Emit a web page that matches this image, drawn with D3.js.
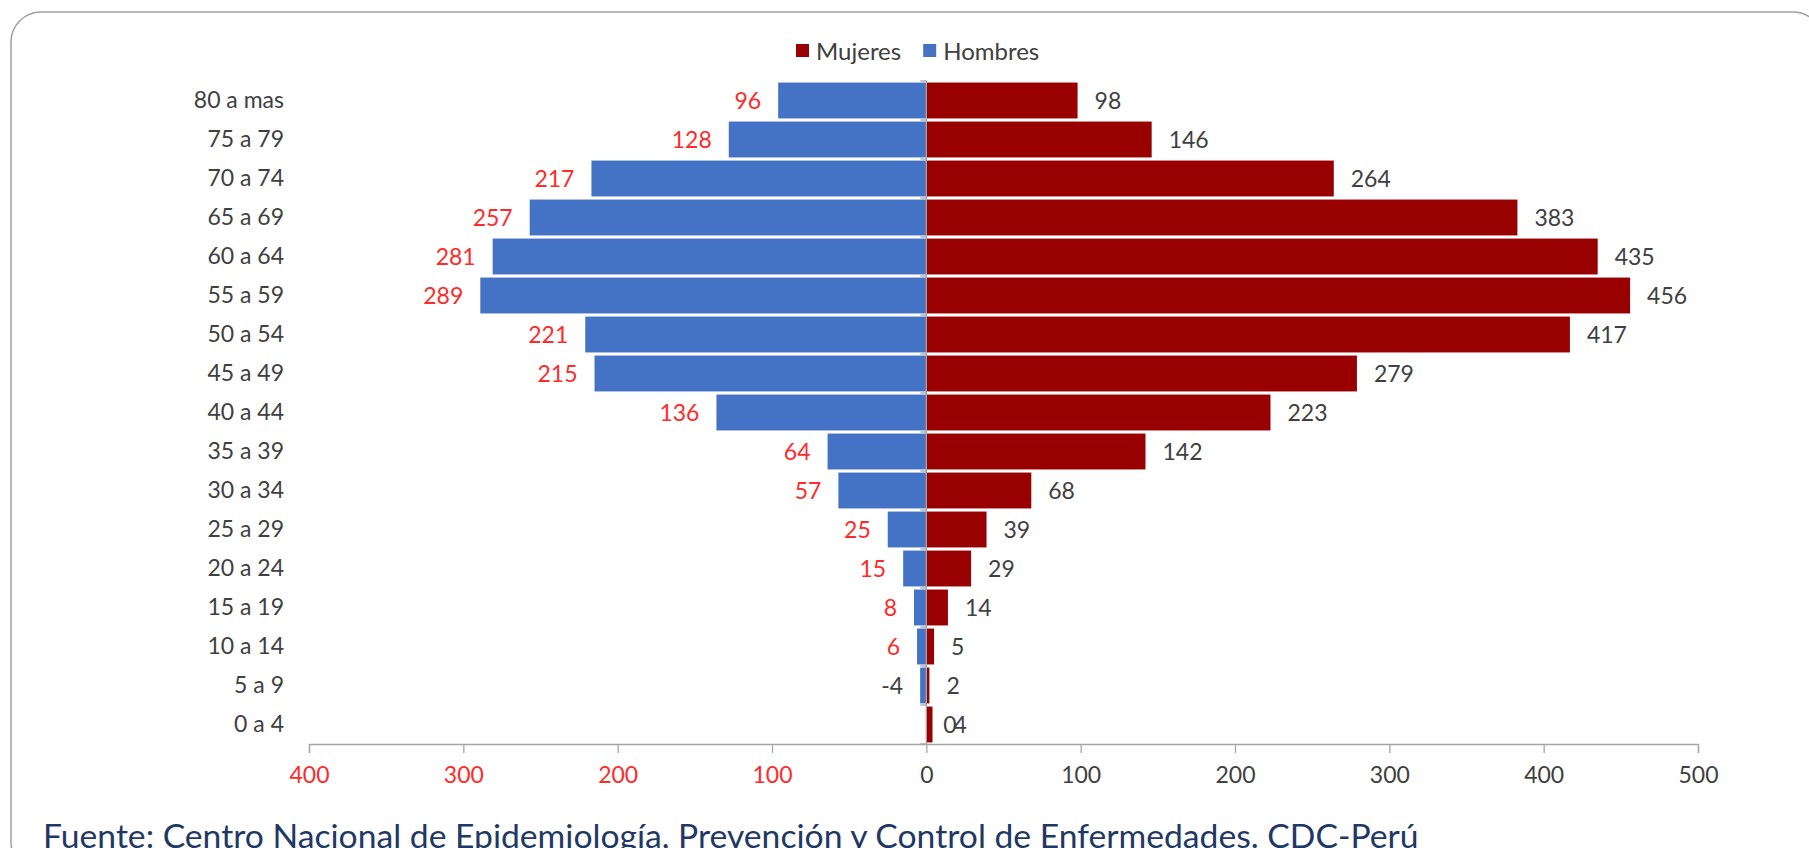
<!DOCTYPE html>
<html lang="es">
<head>
<meta charset="utf-8">
<title>Pirámide por grupo de edad y sexo</title>
<script src="https://cdn.jsdelivr.net/npm/d3@7/dist/d3.min.js"></script>
<style>
  html, body { margin: 0; padding: 0; background: #ffffff; }
  svg { display: block; }
  text { font-family: Lato, "Liberation Sans", sans-serif; }
</style>
</head>
<body>
<svg id="chart" width="1809" height="848"></svg>
<script>
// Age groups, oldest first
const ageGroups = ["80 a mas", "75 a 79", "70 a 74", "65 a 69", "60 a 64", "55 a 59",
  "50 a 54", "45 a 49", "40 a 44", "35 a 39", "30 a 34", "25 a 29", "20 a 24",
  "15 a 19", "10 a 14", "5 a 9", "0 a 4"];

// Women: plotted to the right of zero
const mujeres = [98, 146, 264, 383, 435, 456, 417, 279, 223, 142, 68, 39, 29, 14, 5, 2, 4];

// Men: plotted to the left of zero (negative values)
const hombres = [-96, -128, -217, -257, -281, -289, -221, -215, -136, -64, -57, -25, -15, -8, -6, -4, 0];

// Rows whose men label keeps its sign and default colour
const signedLabelRows = ["5 a 9"];

// Value axis ticks
const xTicks = [-400, -300, -200, -100, 0, 100, 200, 300, 400, 500];

const seriesNames = ["Mujeres", "Hombres"];
const seriesColors = { Mujeres: "#990000", Hombres: "#4472C4" };

const footnote = "Fuente: Centro Nacional de Epidemiología, Prevención y Control de Enfermedades. CDC-Perú";

const textDark = "#404040";
const textRed = "#ff2a2a";
const axisGray = "#a6a6a6";

const svg = d3.select("#chart");

// Rounded panel frame
svg.append("rect")
  .attr("x", 11).attr("y", 12)
  .attr("width", 1812).attr("height", 860)
  .attr("rx", 30).attr("ry", 30)
  .attr("fill", "#ffffff")
  .attr("stroke", "#a0a0a0")
  .attr("stroke-width", 1.5);

const plot = { left: 309, right: 1698, top: 81, bottom: 744 };

const x = d3.scaleLinear().domain([-400, 500]).range([plot.left, plot.right]);
const y = d3.scaleBand()
  .domain(ageGroups)
  .range([plot.top, plot.bottom])
  .paddingInner(0.08)
  .paddingOuter(0.04);

const rows = ageGroups.map((g, i) => ({ group: g, m: mujeres[i], h: hombres[i] }));

// Men bars
svg.append("g").selectAll("rect")
  .data(rows)
  .join("rect")
  .attr("x", d => x(Math.min(0, d.h)))
  .attr("y", d => y(d.group))
  .attr("width", d => Math.abs(x(d.h) - x(0)))
  .attr("height", y.bandwidth())
  .attr("fill", seriesColors.Hombres);

// Women bars
svg.append("g").selectAll("rect")
  .data(rows)
  .join("rect")
  .attr("x", d => x(Math.min(0, d.m)))
  .attr("y", d => y(d.group))
  .attr("width", d => Math.abs(x(d.m) - x(0)))
  .attr("height", y.bandwidth())
  .attr("fill", seriesColors.Mujeres);

// Vertical category axis at zero, with ticks at the band boundaries
const step = y.step();
const zeroAxis = svg.append("g").attr("stroke", axisGray).attr("stroke-width", 1.3);
zeroAxis.append("line")
  .attr("x1", x(0)).attr("x2", x(0))
  .attr("y1", plot.top).attr("y2", plot.bottom);
zeroAxis.selectAll("line.tick")
  .data(d3.range(ageGroups.length + 1))
  .join("line")
  .attr("class", "tick")
  .attr("x1", x(0) - 6).attr("x2", x(0))
  .attr("y1", i => plot.top + i * step)
  .attr("y2", i => plot.top + i * step);

// Category labels at the left
const catAxis = svg.append("g")
  .attr("transform", `translate(${284},0)`)
  .call(d3.axisLeft(y).tickSize(0).tickPadding(0));
catAxis.select(".domain").remove();
catAxis.selectAll("text")
  .attr("font-family", "Lato, 'Liberation Sans', sans-serif")
  .attr("font-size", 23)
  .attr("fill", textDark);

// Value axis
const xAxis = svg.append("g")
  .attr("transform", `translate(0,${plot.bottom})`)
  .call(d3.axisBottom(x).tickValues(xTicks).tickSize(9).tickPadding(14)
    .tickFormat(d => d3.format("d")(Math.abs(d))));
xAxis.select(".domain").attr("stroke", axisGray).attr("stroke-width", 1.3);
xAxis.selectAll(".tick line").attr("stroke", axisGray).attr("stroke-width", 1.3);
xAxis.selectAll(".tick text")
  .attr("font-family", "Lato, 'Liberation Sans', sans-serif")
  .attr("font-size", 23)
  .attr("fill", d => d < 0 ? textRed : textDark);

// Value labels
const labelGap = 17;
const labels = svg.append("g")
  .attr("font-size", 23);

labels.selectAll("text.men")
  .data(rows)
  .join("text")
  .attr("class", "men")
  .attr("x", d => d.h < 0 ? x(d.h) - labelGap : x(d.h) + labelGap)
  .attr("y", d => y(d.group) + y.bandwidth() / 2)
  .attr("dy", "0.36em")
  .attr("text-anchor", d => d.h < 0 ? "end" : "start")
  .attr("fill", d => (d.h < 0 && !signedLabelRows.includes(d.group)) ? textRed : textDark)
  .text(d => signedLabelRows.includes(d.group) ? String(d.h) : String(Math.abs(d.h)));

labels.selectAll("text.women")
  .data(rows)
  .join("text")
  .attr("class", "women")
  .attr("x", d => x(d.m) + labelGap + (d.m < 10 && d.h === 0 ? 4 : 0))
  .attr("y", d => y(d.group) + y.bandwidth() / 2)
  .attr("dy", "0.36em")
  .attr("text-anchor", "start")
  .attr("fill", textDark)
  .text(d => String(d.m));

// Legend
const legend = svg.append("g").attr("transform", "translate(796,51)");
let lx = 0;
seriesNames.forEach(name => {
  const item = legend.append("g").attr("transform", `translate(${lx},0)`);
  item.append("rect")
    .attr("x", 0).attr("y", -7)
    .attr("width", 13).attr("height", 13)
    .attr("fill", seriesColors[name]);
  const t = item.append("text")
    .attr("x", 20).attr("y", 0).attr("dy", "0.36em")
    .attr("font-size", 24)
    .attr("fill", textDark)
    .text(name);
  lx += 20 + t.node().getComputedTextLength() + 22;
});

// Source note along the bottom edge
const note = svg.append("text")
  .attr("x", 43).attr("y", 848)
  .attr("font-size", 30)
  .attr("fill", "#1f3864")
  .text(footnote);
const noteWidth = note.node().getComputedTextLength();
note.attr("font-size", 30 * 1376 / noteWidth);
</script>
</body>
</html>
